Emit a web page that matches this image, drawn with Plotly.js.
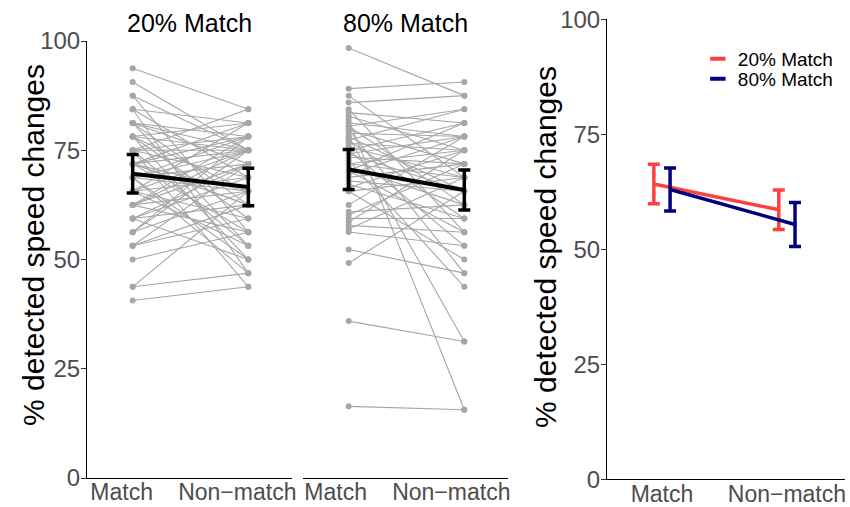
<!DOCTYPE html>
<html>
<head>
<meta charset="utf-8">
<script src="https://cdn.plot.ly/plotly-3.0.1.min.js"></script>
<style>html,body{margin:0;padding:0;background:#fff;}#chart{width:850px;height:507px;}</style>
</head>
<body>
<div id="chart"></div>
<script>
// ---------- data ----------
const conditions = ['Match', 'Non\u2212match'];
const groups = ['20% Match', '80% Match'];
const yTicks = [0, 25, 50, 75, 100];

// individual participants, 20% Match group (paired: match[i] -> nonmatch[i])
const match20 = [93.75, 90.63, 87.5, 87.5, 84.38, 84.38, 84.38, 81.25, 81.25, 81.25,
  81.25, 81.25, 78.13, 78.13, 78.13, 78.13, 78.13, 75, 75, 75,
  75, 75, 75, 71.88, 71.88, 71.88, 71.88, 71.88, 71.88, 68.75,
  68.75, 68.75, 68.75, 68.75, 68.75, 65.63, 65.63, 65.63, 65.63, 65.63,
  62.5, 62.5, 62.5, 62.5, 62.5, 59.38, 59.38, 59.38, 59.38, 56.25,
  56.25, 56.25, 53.13, 53.13, 53.13, 50, 43.75, 43.75, 40.63];
const nonmatch20 = [84.38, 75, 75, 56.25, 81.25, 46.88, 68.75, 78.13, 75, 53.13,
  62.5, 71.88, 81.25, 65.63, 50, 75, 59.38, 78.13, 84.38, 53.13,
  68.75, 75, 43.75, 78.13, 65.63, 56.25, 75, 62.5, 81.25, 71.88,
  50, 78.13, 65.63, 75, 46.88, 68.75, 75, 53.13, 81.25, 59.38,
  71.88, 65.63, 56.25, 78.13, 75, 68.75, 62.5, 71.88, 50, 75,
  65.63, 78.13, 62.5, 71.88, 59.38, 56.25, 65.63, 46.88, 43.75];

// individual participants, 80% Match group
const match80 = [98.4, 89.1, 87.5, 85.9, 84.4, 83.6, 82.8, 82.0, 81.3, 80.5,
  80.5, 79.7, 79.7, 78.9, 78.1, 78.1, 77.3, 77.3, 76.6, 75.8,
  75.0, 75.0, 74.2, 74.2, 73.4, 72.7, 71.9, 71.9, 71.1, 70.3,
  70.3, 69.5, 68.8, 68.0, 67.2, 66.4, 65.6, 65.6, 62.5, 60.9,
  60.2, 59.4, 58.6, 57.8, 57.0, 56.3, 52.3, 49.2, 35.9, 16.4];
const nonmatch80 = [87.5, 90.63, 68.75, 87.5, 56.25, 81.25, 75, 15.63, 78.13, 62.5,
  84.38, 46.88, 71.88, 78.13, 31.25, 65.63, 84.38, 59.38, 75, 68.75,
  81.25, 53.13, 78.13, 65.63, 71.88, 43.75, 75, 68.75, 62.5, 81.25,
  56.25, 78.13, 71.88, 65.63, 59.38, 75, 50, 68.75, 78.13, 62.5,
  71.88, 59.38, 75, 56.25, 68.75, 53.13, 46.88, 65.63, 31.25, 15.63];

// group means with error bars (left panels)
const mean20 = [69.6, 66.6];
const err20 = [4.4, 4.3];
const mean80 = [70.6, 65.9];
const err80 = [4.6, 4.6];

// summary panel (right)
const sumMean20 = [64.2, 58.6];
const sumErr20 = [4.3, 4.3];
const sumMean80 = [63.0, 55.4];
const sumErr80 = [4.7, 4.8];

// ---------- styles ----------
const W = 850, H = 507;
const FONT = 'Liberation Sans, Arial, Helvetica, sans-serif';
const GREY = '#a6a6a6';
const RED = '#ff4040';
const NAVY = '#000080';
const TICKC = '#4d4d4d';

function pairedXY(a, b) {
  const x = [], y = [];
  for (let i = 0; i < a.length; i++) {
    x.push(conditions[0], conditions[1], null);
    y.push(a[i], b[i], null);
  }
  return {x, y};
}

const p20 = pairedXY(match20, nonmatch20);
const p80 = pairedXY(match80, nonmatch80);

const traces = [];
[[p20, 'x', 'y'], [p80, 'x2', 'y2']].forEach(([p, xa, ya]) => {
  traces.push({
    type: 'scatter', mode: 'lines+markers', x: p.x, y: p.y, xaxis: xa, yaxis: ya,
    connectgaps: false, showlegend: false, hoverinfo: 'skip',
    line: {color: GREY, width: 1.1},
    marker: {color: GREY, size: 6}
  });
});
[[mean20, err20, 'x', 'y'], [mean80, err80, 'x2', 'y2']].forEach(([m, e, xa, ya]) => {
  traces.push({
    type: 'scatter', mode: 'lines', x: conditions, y: m, xaxis: xa, yaxis: ya,
    showlegend: false, line: {color: '#000', width: 4},
    error_y: {type: 'data', array: e, visible: true, color: '#000', thickness: 3.5, width: 6}
  });
});

const dodge = 0.065;
[[sumMean20, sumErr20, RED, -dodge], [sumMean80, sumErr80, NAVY, dodge]].forEach(([m, e, c, d]) => {
  traces.push({
    type: 'scatter', mode: 'lines', showlegend: false,
    x: conditions.map((_, i) => i + d), y: m, xaxis: 'x3', yaxis: 'y3',
    line: {color: c, width: 3.5},
    error_y: {type: 'data', array: e, visible: true, color: c, thickness: 3.5, width: 6}
  });
});
// legend entries (short line keys like the reference), one legend box per entry
[[groups[0], RED, 'legend'], [groups[1], NAVY, 'legend2']].forEach(([name, c, lg]) => {
  traces.push({
    type: 'scatter', mode: 'markers', name: name, x: [null], y: [null],
    xaxis: 'x3', yaxis: 'y3', showlegend: true, legend: lg,
    marker: {symbol: 'line-ew', size: 11, color: c, line: {color: c, width: 4}}
  });
});

const yBase = {
  range: [0, 100], tickvals: yTicks, showgrid: false, zeroline: false,
  showline: true, linecolor: '#000', linewidth: 1,
  ticks: 'outside', ticklen: 5, tickcolor: '#333', tickwidth: 1,
  ticklabelstandoff: -4,
  tickfont: {family: FONT, size: 24, color: TICKC}, fixedrange: true
};
const xBase = {
  type: 'category', categoryarray: conditions, categoryorder: 'array',
  range: [-0.395, 1.378], showgrid: false, zeroline: false,
  showline: true, linecolor: '#000', linewidth: 1, ticks: '',
  ticklabelstandoff: -7,
  tickfont: {family: FONT, size: 23, color: TICKC}, fixedrange: true
};
const leftDom = [1 - 478 / H, 1 - 41 / H];
const rightDom = [1 - 479.3 / H, 1 - 19.3 / H];
const legendBase = {
  xanchor: 'left', yanchor: 'middle',
  bgcolor: 'rgba(0,0,0,0)', font: {family: FONT, size: 19, color: '#000'},
  itemwidth: 30, tracegroupgap: 0
};

const layout = {
  width: W, height: H,
  margin: {l: 0, r: 0, t: 0, b: 0},
  paper_bgcolor: '#fff', plot_bgcolor: '#fff',
  font: {family: FONT},
  xaxis: Object.assign({}, xBase, {domain: [87 / W, 292 / W], anchor: 'y', ticklabelshift: -11}),
  yaxis: Object.assign({}, yBase, {domain: leftDom, anchor: 'x'}),
  xaxis2: Object.assign({}, xBase, {domain: [303 / W, 508 / W], anchor: 'y2', ticklabelshift: -13}),
  yaxis2: Object.assign({}, yBase, {domain: leftDom, anchor: 'x2', showline: false, ticks: '', showticklabels: false}),
  xaxis3: Object.assign({}, xBase, {type: 'linear', domain: [607 / W, 845 / W], anchor: 'y3',
    range: [-0.44, 1.465], tickvals: [0, 1], ticktext: conditions, ticklabelstandoff: -6}),
  yaxis3: Object.assign({}, yBase, {domain: rightDom, anchor: 'x3'}),
  showlegend: true,
  legend: Object.assign({}, legendBase, {x: 0.821, y: 1 - 59 / H}),
  legend2: Object.assign({}, legendBase, {x: 0.821, y: 1 - 79 / H}),
  annotations: [
    {text: groups[0], xref: 'paper', yref: 'paper', x: 189.5 / W, y: 1 - 23 / H,
      showarrow: false, font: {family: FONT, size: 25, color: '#000'}, xanchor: 'center', yanchor: 'middle'},
    {text: groups[1], xref: 'paper', yref: 'paper', x: 405.5 / W, y: 1 - 23 / H,
      showarrow: false, font: {family: FONT, size: 25, color: '#000'}, xanchor: 'center', yanchor: 'middle'},
    {text: '% detected speed changes', xref: 'paper', yref: 'paper', x: 33 / W, y: 1 - 245 / H,
      textangle: -90, showarrow: false, font: {family: FONT, size: 30, color: '#000'}, xanchor: 'center', yanchor: 'middle'},
    {text: '% detected speed changes', xref: 'paper', yref: 'paper', x: 545 / W, y: 1 - 247 / H,
      textangle: -90, showarrow: false, font: {family: FONT, size: 30, color: '#000'}, xanchor: 'center', yanchor: 'middle'}
  ]
};

Plotly.newPlot('chart', traces, layout, {displayModeBar: false, staticPlot: true});
</script>
</body>
</html>
